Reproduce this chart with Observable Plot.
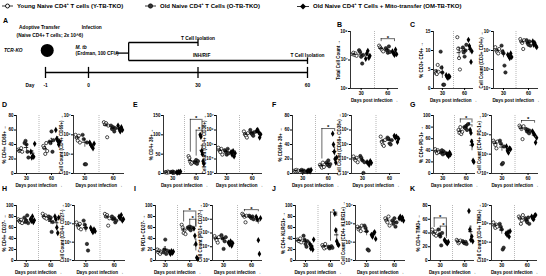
<!DOCTYPE html>
<html><head><meta charset="utf-8">
<script src="https://cdn.jsdelivr.net/npm/d3@7"></script>
<script src="https://cdn.jsdelivr.net/npm/@observablehq/plot@0.6"></script>
<style>
body{margin:0;background:#fff;font-family:"Liberation Sans",Arial,sans-serif;}
#root{position:relative;width:546px;height:276px;overflow:hidden;background:#fff;}
.let{position:absolute;font-weight:bold;font-size:7px;line-height:1;}
.leg{position:absolute;top:2px;font-weight:bold;font-size:6px;line-height:8px;white-space:nowrap;display:flex;align-items:center;}
.leg svg{margin-right:4px;}
.leg sup{font-size:4px;vertical-align:top;line-height:4px;}
</style></head><body><div id="root"></div>
<script>
// ---------- labels ----------
const groupNames=["Young Naive CD4<sup>+</sup> T cells (Y-TB-TKO)","Old Naive CD4<sup>+</sup> T Cells (O-TB-TKO)","Old Naive CD4<sup>+</sup> T Cells + Mito-transfer  (OM-TB-TKO)"];
const dayTickLabels=["30","60"];
const xTitle="Days post infection";

// ---------- data: six groups each = [Y30,O30,OM30,Y60,O60,OM60] ----------
const B_total=[[1.6e7,1.8e7,1.5e7,1.7e7,1.4e7],[2.2e7,1.9e7,1.3e7,7.5e6,1.5e7],[1.1e7,1.7e7,2.1e7,1.2e7,1.4e7],[3.2e7,2.8e7,2.5e7,2.2e7,2.0e7],[2.6e7,2.2e7,1.8e7,3e7,1.9e7],[2e7,1.7e7,1.5e7,2.3e7,1.6e7]];
const B_sig=[[3,5,5.6e7,4.4e7,4.4e7]];
const C_pct=[[4.5,4,3.8,6.2,4.4],[9.7,5.5,4.2,1,1],[3.5,3,2.8,3.3,3.1],[13.5,10.5,8,5,10.2],[10.8,9.5,8.4,10,11.5],[12.8,11.2,10.5,7,9.8]];
const C_cnt=[[1.5e6,1e6,8e5,7e5,1.2e6],[1.8e6,9e5,7e5,1.6e5,7e4],[6e5,5e5,4e5,7e5,4.5e5],[4e6,3e6,2.5e6,1.2e6,3.5e6],[3.5e6,2.5e6,2e6,3e6,1.8e6],[3e6,2e6,2.5e6,1.8e6,1.5e6]];
const D_pct=[[33,31,32,35,30],[42,45,40,30,22],[30,22,24,23,41],[38,35,27,42,31],[44,42,58,30,46],[60,48,45,40,44]];
const D_cnt=[[1e6,7e5,5e5,9e5,4e5],[1e6,6e5,3e4,3e4,4e5],[4e5,3e5,2.5e5,2e5,3.5e5],[4.5e6,3.5e6,4e6,7.5e5,3e6],[3e6,2e6,2.5e6,1.5e6,2.2e6],[3e6,2e6,1.5e6,2.5e6,1.8e6]];
const E_pct=[[3,4,2,5,3],[4,3,5,2,3],[3,2,4,3,5],[45,40,30,25,28],[30,28,35,25,32],[100,95,58,50,32,25]];
const E_sig=[[3,5,140,55,108],[4,5,112,45,100]];
const E_cnt=[[6e4,4e4,3e4,5e4,2e4],[4e4,3e4,2e4,5e4,2.5e4],[3e4,2e4,3.5e4,1.5e4,2.5e4],[8e5,5e5,4e5,3e5,6e5],[1e6,6e5,5e5,4e5,7e5],[9e5,1e6,7e5,3e5,5e5]];
const F_pct=[[4,3,5,3,4],[4,5,3,4,3],[3,4,4,3,5],[12,10,8,15,9],[15,12,18,10,13],[55,40,30,20,15,22]];
const F_sig=[[3,5,62,20,58]];
const F_cnt=[[1.5e4,1e4,8e3,1.2e4,6e3],[1.6e4,1.2e4,8e3,1.1e3,6e3],[6e3,5e3,4e3,7e3,5.5e3],[3.5e5,1.5e5,1e5,8e4,2e5],[3e5,2.5e5,1.2e5,1e5,2e5],[4e5,3e5,3.5e5,1.5e5,2.5e5]];
const G_pct=[[42,38,35,40,37],[36,40,33,38,35],[34,32,30,36,33],[75,70,80,68,72],[80,78,82,75,85],[75,70,55,50,22,20]];
const G_sig=[[3,5,94,87,87],[4,5,84,80,80]];
const G_cnt=[[5e5,4e5,3e5,2e5,4.5e5],[5e5,3.5e5,3e4,3.5e4,2.5e5],[2.5e5,1.5e5,1.2e5,2e5,1.8e5],[3e6,2.5e6,2e6,6e5,2.8e6],[2e6,1.5e6,1.8e6,1.2e6,1.6e6],[1.5e6,1.2e6,1e6,4e5,7e5]];
const G_cntSig=[[3,5,5.5e6,4e6,4e6]];
const H_pct=[[75,72,70,74,68],[78,70,72,82,68],[75,72,80,70,73],[85,80,78,82,76],[80,75,78,52,70],[80,75,60,50,78]];
const H_cnt=[[1.2e6,8e5,6e5,1e6,5e5],[1.5e6,9e5,6e5,8e4,3.5e4],[6e5,4.5e5,3.5e5,5e5,4e5],[3.5e6,2.5e6,3e6,8e5,2e6],[2.5e6,1.8e6,2e6,1.2e6,1.5e6],[2.5e6,2e6,3e6,1.5e6,1.8e6]];
const I_pct=[[20,15,18,12,16],[15,20,38,12,18],[15,12,17,14,16],[65,60,50,55,48],[60,58,62,55,60],[58,45,30,5,3]];
const I_sig=[[3,5,90,70,62],[4,5,75,65,60]];
const I_cnt=[[6e4,4e4,3e4,2e4,5e4],[7e4,4e4,7e3,2.5e4,5e4],[2e4,1.5e4,2.5e4,1.2e4,1.8e4],[2.5e6,2e6,1.5e6,6e5,1.8e6],[1.8e6,1.5e6,1.2e6,1.6e6,1e6],[1.5e6,1e6,3e4,3e3,1.2e6]];
const I_cntSig=[[3,5,5e6,3.5e6,3.5e6]];
const J_pct=[[38,36,35,40,33],[45,38,30,25,35],[30,22,25,20,38],[28,25,22,30,24],[25,22,24,26,23],[85,55,35,30,28]];
const J_sig=[[4,5,88,35,80]];
const J_cnt=[[7e5,5e5,6e5,4e5,8e5],[8e5,6e5,4e5,4e4,3.5e4],[2.5e5,2e5,3e5,3.5e5,1.5e5],[2e6,1.5e6,1.2e6,2.5e6,8e5],[1.5e6,1e6,2e6,7e5,1.2e6],[2e6,2.5e6,1.8e6,2.2e6,1.5e6]];
const K_pct=[[45,40,38,42,36],[45,38,35,22,40],[30,28,26,25,27],[30,28,25,27,29],[28,26,25,27,24],[72,45,30,35,28]];
const K_sig=[[0,2,62,48,35],[1,2,50,42,32]];
const K_cnt=[[1.2e6,8e5,6e5,9e5,7e5],[1e6,7e5,5e5,4e4,5e4],[3e5,2.5e5,3.5e5,2e5,4e5],[2.5e6,2e6,1e6,1.5e6,3e6],[2e6,1.5e6,1.2e6,2.2e6,1e6],[2.5e6,2e6,1.8e6,2.8e6,3e6]];

// ---------- panel A schematic data ----------
const tlDays=[-1,0,30,60];
const tlLabels=["-1","0","30","60"];
const aSegments=[
  {d1:-1,r1:8.33,d2:60,r2:8.33},
  {d1:11,r1:3.33,d2:30,r2:3.33},{d1:30,r1:2.8,d2:30,r2:3.9},
  {d1:11,r1:6.33,d2:60,r2:6.33},{d1:60,r1:5.8,d2:60,r2:6.9},
  {d1:11,r1:3.33,d2:11,r2:6.33},{d1:7.4,r1:5.1,d2:11,r2:5.1}
];
const aTexts=[
  {d:-1.14,r:0.8,t:"Adoptive Transfer",a:"middle",it:false},
  {d:-0.9,r:2.1,t:"(Naive CD4+ T cells; 2x 10^6)",a:"middle",it:false},
  {d:0.9,r:0.8,t:"Infection",a:"middle",it:false},
  {d:-1.75,r:4.7,t:"TCR-KO",a:"middle",it:true},
  {d:-0.3,r:4.1,t:"M. tb",a:"start",it:true},
  {d:-0.3,r:5.15,t:"(Erdman, 100 CFU)",a:"start",it:false},
  {d:30,r:2.6,t:"T Cell Isolation",a:"middle",it:false},
  {d:31,r:5.5,t:"INH/RIF",a:"middle",it:false},
  {d:60,r:5.5,t:"T Cell Isolation",a:"middle",it:false},
  {d:-1.36,r:10.5,t:"Day",a:"middle",it:false}
];
const aMouse=[{d:-0.96,r:4.65}];

const root=document.getElementById("root");
const sup=n=>String(n).split("").map(c=>"⁰¹²³⁴⁵⁶⁷⁸⁹"[+c]).join("");
const FONT="'Liberation Sans', Arial, sans-serif";

// legend
const legX=[2,145,297];
const symSvg=[
 '<svg width="11" height="6"><line x1="0" y1="3" x2="11" y2="3" stroke="#000" stroke-width="0.8"/><circle cx="5.5" cy="3" r="2" fill="#fff" stroke="#000" stroke-width="0.9"/></svg>',
 '<svg width="11" height="6"><line x1="0" y1="3" x2="11" y2="3" stroke="#000" stroke-width="0.8"/><circle cx="5.5" cy="3" r="2.2" fill="#333" stroke="#000" stroke-width="0.6"/></svg>',
 '<svg width="12" height="7"><line x1="0" y1="3.5" x2="12" y2="3.5" stroke="#000" stroke-width="0.8"/><path d="M6 0.5 L9 3.5 L6 6.5 L3 3.5Z" fill="#000"/></svg>'];
groupNames.forEach((n,i)=>{const d=document.createElement("div");d.className="leg";d.style.left=legX[i]+"px";d.innerHTML=symSvg[i]+"<span>"+n+"</span>";root.appendChild(d);});

// panel letters
[["A",3,17],["B",337,21],["C",410,21],["D",2,101],["E",133,101],["F",272,101],["G",410,101],["H",2,185],["I",134,185],["J",272,185],["K",410,185]].forEach(([t,x,y])=>{const d=document.createElement("div");d.className="let";d.style.left=x+"px";d.style.top=y+"px";d.textContent=t;root.appendChild(d);});

// panel A : timeline with a stretched pre-infection day
{
  const dayPos=d3.scaleLinear().domain([-1,0,60]).range([45,88,307]);
  const px=d=>dayPos(d);
  const a=Plot.plot({width:330,height:72,margin:0,
    style:{fontSize:"4.8px",fontFamily:FONT,fontWeight:"bold",background:"none",overflow:"visible"},
    x:{type:"identity",axis:null},
    y:{domain:[0,11],range:[4,70],axis:null},
    marks:[
      Plot.link(aSegments,{x1:d=>px(d.d1),y1:"r1",x2:d=>px(d.d2),y2:"r2",stroke:"#000",strokeWidth:1.3}),
      Plot.link(tlDays,{x1:d=>px(d),x2:d=>px(d),y1:()=>7.4,y2:()=>9.25,stroke:"#000",strokeWidth:1.3}),
      Plot.text(tlDays,{x:d=>px(d),y:()=>10.5,text:(d,i)=>tlLabels[i]}),
      Plot.dot(aMouse,{x:d=>px(d.d),y:"r",r:6.5,fill:"#000"}),
      Plot.text(aTexts.filter(t=>t.a==="middle"&&!t.it),{x:d=>px(d.d),y:"r",text:"t",textAnchor:"middle"}),
      Plot.text(aTexts.filter(t=>t.a==="middle"&&t.it),{x:d=>px(d.d),y:"r",text:"t",textAnchor:"middle",fontStyle:"italic"}),
      Plot.text(aTexts.filter(t=>t.a==="start"&&!t.it),{x:d=>px(d.d),y:"r",text:"t",textAnchor:"start"}),
      Plot.text(aTexts.filter(t=>t.a==="start"&&t.it),{x:d=>px(d.d),y:"r",text:"t",textAnchor:"start",fontStyle:"italic"})
    ]});
  a.style.position="absolute";a.style.left="0px";a.style.top="18px";
  root.appendChild(a);
}

// scatter sub-plots
const xs=[1,2,3,5,6,7];
function sub(p){
  const {left,top,w,h,groups,ylab,log,dom,ticks,sig=[]}=p;
  const mL=16,mR=2,mT=6,mB=16;
  const pts=[];
  groups.forEach((vals,g)=>{const n=vals.length;vals.forEach((v,i)=>pts.push({t:g%3,x:xs[g]+(n>1?(i/(n-1)-0.5)*0.62:0),v}));});
  const st=groups.map((vals,g)=>{const m=d3.mean(vals),s=d3.deviation(vals)/Math.sqrt(vals.length);return {x:xs[g],m,lo:Math.max(m-s,dom[0]*1.05),hi:m+s};});
  const br=sig.map(([g1,g2,top,l,r])=>({x1:xs[g1],x2:xs[g2],top,l,r,mid:(xs[g1]+xs[g2])/2}));
  const chart=Plot.plot({width:mL+w+mR,height:mT+h+mB,marginLeft:mL,marginRight:mR,marginTop:mT,marginBottom:mB,
    style:{fontSize:"4.5px",fontFamily:FONT,fontWeight:"bold",background:"none",overflow:"visible"},
    x:{domain:[0.4,7.6],ticks:[2,6],tickFormat:d=>d===2?dayTickLabels[0]:dayTickLabels[1],tickSize:2,tickPadding:1,label:xTitle,labelAnchor:"center",labelOffset:13},
    y:{type:log?"log":"linear",domain:dom,ticks,tickFormat:log?(d=>"10"+sup(Math.round(Math.log10(d)))):(d=>String(d)),tickSize:2,tickPadding:1,label:ylab,labelAnchor:"center",labelOffset:14},
    marks:[
      Plot.ruleX([4],{stroke:"#888",strokeDasharray:"1,1",strokeWidth:0.6}),
      Plot.ruleX([0.4],{stroke:"#000",strokeWidth:0.8}),
      Plot.ruleY([dom[0]],{stroke:"#000",strokeWidth:0.8}),
      Plot.dot(pts.filter(d=>d.t===0),{x:"x",y:"v",r:1.6,fill:"#fff",stroke:"#000",strokeWidth:0.7}),
      Plot.dot(pts.filter(d=>d.t===1),{x:"x",y:"v",r:1.7,fill:"#333",stroke:"#000",strokeWidth:0.5}),
      Plot.dot(pts.filter(d=>d.t===2),{x:"x",y:"v",r:1.9,symbol:"diamond",fill:"#000"}),
      Plot.ruleX(st,{x:"x",y1:"lo",y2:"hi",stroke:"#000",strokeWidth:0.6}),
      Plot.ruleY(st,{y:"m",x1:d=>d.x-0.35,x2:d=>d.x+0.35,stroke:"#000",strokeWidth:0.8}),
      Plot.ruleY(st,{y:"hi",x1:d=>d.x-0.15,x2:d=>d.x+0.15,stroke:"#000",strokeWidth:0.5}),
      Plot.ruleY(br,{y:"top",x1:"x1",x2:"x2",stroke:"#000",strokeWidth:0.6}),
      Plot.ruleX(br,{x:"x1",y1:"l",y2:"top",stroke:"#000",strokeWidth:0.6}),
      Plot.ruleX(br,{x:"x2",y1:"r",y2:"top",stroke:"#000",strokeWidth:0.6}),
      Plot.text(br,{x:"mid",y:"top",text:()=>"*",dy:-1,fontSize:6})
    ]});
  chart.style.position="absolute";chart.style.left=(left-mL)+"px";chart.style.top=(top-mT)+"px";
  root.appendChild(chart);
}
const dec=(a,b)=>d3.range(a,b+1).map(e=>Math.pow(10,e));
const lin=(a,b,s)=>d3.range(a,b+s/2,s);
const panels=[
 {left:350,top:31,w:48,h:57,groups:B_total,sig:B_sig,ylab:"Total Cell Count",log:true,dom:[1e6,1e8],ticks:dec(6,8)},
 {left:433,top:31,w:40,h:57,groups:C_pct,ylab:"% CD3+ CD4+",dom:[0,15],ticks:lin(0,15,5)},
 {left:493,top:31,w:45,h:57,groups:C_cnt,ylab:"Cell Count (CD3+ CD4+)",log:true,dom:[1e4,1e7],ticks:dec(4,7)},
 {left:16,top:115,w:45,h:58,groups:D_pct,ylab:"% CD4+ CD69+",dom:[0,80],ticks:lin(0,80,20)},
 {left:73,top:115,w:51,h:58,groups:D_cnt,ylab:"Cell Count (CD4+ CD69+)",log:true,dom:[1e4,1e7],ticks:dec(4,7)},
 {left:163,top:115,w:42,h:58,groups:E_pct,sig:E_sig,ylab:"% CD4+ 38+",dom:[0,150],ticks:lin(0,150,50)},
 {left:216,top:115,w:46,h:58,groups:E_cnt,ylab:"Cell Count (CD4+ CD38+)",log:true,dom:[1e3,1e7],ticks:dec(3,7)},
 {left:292,top:115,w:46,h:58,groups:F_pct,sig:F_sig,ylab:"% CD69+ 38+",dom:[0,80],ticks:lin(0,80,20)},
 {left:351,top:115,w:49,h:58,groups:F_cnt,ylab:"Cell Count (CD69+ CD38+)",log:true,dom:[1e3,1e7],ticks:dec(3,7)},
 {left:433,top:115,w:42,h:58,groups:G_pct,sig:G_sig,ylab:"% CD4+ PD-1+",dom:[0,100],ticks:lin(0,100,20)},
 {left:491,top:115,w:47,h:58,groups:G_cnt,sig:G_cntSig,ylab:"Cell Count (CD4+ PD-1+)",log:true,dom:[1e4,1e7],ticks:dec(4,7)},
 {left:16,top:205,w:44,h:55,groups:H_pct,ylab:"% CD4+ CD27-",dom:[0,100],ticks:lin(0,100,20)},
 {left:74,top:205,w:51,h:55,groups:H_cnt,ylab:"Cell Count (CD4+ CD27-)",log:true,dom:[1e4,1e7],ticks:dec(4,7)},
 {left:155,top:205,w:44,h:55,groups:I_pct,sig:I_sig,ylab:"% PD1+ CD27-",dom:[0,100],ticks:lin(0,100,20)},
 {left:212,top:205,w:50,h:55,groups:I_cnt,sig:I_cntSig,ylab:"Cell Count (PD1+ CD27-)",log:true,dom:[1e3,1e7],ticks:dec(3,7)},
 {left:295,top:205,w:45,h:55,groups:J_pct,sig:J_sig,ylab:"% CD4+ KLRG1+",dom:[0,100],ticks:lin(0,100,20)},
 {left:355,top:205,w:50,h:55,groups:J_cnt,ylab:"Cell Count (CD4+ KLRG1+)",log:true,dom:[1e4,1e7],ticks:dec(4,7)},
 {left:430,top:205,w:44,h:55,groups:K_pct,sig:K_sig,ylab:"% CD4+ TIM3+",dom:[0,80],ticks:lin(0,80,20)},
 {left:491,top:205,w:46,h:55,groups:K_cnt,ylab:"Cell Count (CD4+ TIM3+)",log:true,dom:[1e4,1e7],ticks:dec(4,7)}
];
panels.forEach(sub);
</script></body></html>
